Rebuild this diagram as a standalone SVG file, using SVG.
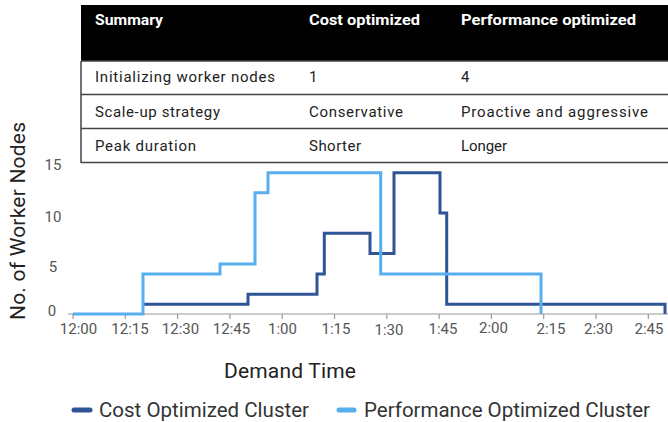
<svg xmlns="http://www.w3.org/2000/svg" width="668" height="422" viewBox="0 0 668 422">
<style>
.hd{font-family:Roboto,"Liberation Sans",sans-serif;font-size:15px;font-weight:bold;fill:#fff}
.td{font-family:Roboto,"Liberation Sans",sans-serif;font-size:15px;fill:#222}
.rl{stroke:#444;stroke-width:1.5;fill:none}
.tk{font-family:Roboto,"Liberation Sans",sans-serif;font-size:15px;fill:#555;text-anchor:middle}
.ttl{font-family:Roboto,"Liberation Sans",sans-serif;font-size:21px;fill:#222}
.lg{font-family:Roboto,"Liberation Sans",sans-serif;font-size:20.5px;fill:#333}
.cost{stroke:#2f5597;stroke-width:3;fill:none;stroke-linejoin:miter}
.perf{stroke:#57aff0;stroke-width:3;fill:none;stroke-linejoin:miter}
</style>
<rect width="668" height="422" fill="#fff"/>
<g id="table">
<rect x="81" y="5" width="587" height="56" fill="#000"/>
<text class="hd" x="95" y="25" textLength="68" lengthAdjust="spacingAndGlyphs">Summary</text>
<text class="hd" x="309" y="25" textLength="111" lengthAdjust="spacingAndGlyphs">Cost optimized</text>
<text class="hd" x="461" y="25" textLength="175" lengthAdjust="spacingAndGlyphs">Performance optimized</text>
<path class="rl" d="M81 61V163M81 61H668M81 94.5H668M81 128.5H668M81 162.5H668"/>
<text class="td" x="95" y="82" textLength="180">Initializing worker nodes</text>
<text class="td" x="309" y="82">1</text>
<text class="td" x="461" y="82">4</text>
<text class="td" x="95" y="117" textLength="125">Scale-up strategy</text>
<text class="td" x="309" y="117" textLength="94">Conservative</text>
<text class="td" x="461" y="117" textLength="187">Proactive and aggressive</text>
<text class="td" x="95" y="151" textLength="101">Peak duration</text>
<text class="td" x="309" y="151" textLength="52">Shorter</text>
<text class="td" x="461" y="151" textLength="46">Longer</text>
</g>
<g id="axes">
<path d="M68 314H668" stroke="#999" stroke-width="1.2"/>
<path d="M73 314v5M125.3 314v5M177.6 314v5M229.9 314v5M282.2 314v5M334.5 314v5M386.8 314v5M439.1 314v5M491.4 314v5M543.7 314v5M596 314v5M648.3 314v5" stroke="#999" stroke-width="1.2"/>
<text class="tk" x="78.5" y="334">12:00</text>
<text class="tk" x="130" y="334">12:15</text>
<text class="tk" x="180.5" y="334">12:30</text>
<text class="tk" x="231.5" y="334">12:45</text>
<text class="tk" x="282.5" y="334">1:00</text>
<text class="tk" x="336" y="334">1:15</text>
<text class="tk" x="389" y="335">1:30</text>
<text class="tk" x="443" y="334">1:45</text>
<text class="tk" x="493.5" y="333">2:00</text>
<text class="tk" x="551" y="334">2:15</text>
<text class="tk" x="598.5" y="334">2:30</text>
<text class="tk" x="649" y="334">2:45</text>
<text class="tk" x="53" y="170">15</text>
<text class="tk" x="53" y="222">10</text>
<text class="tk" x="53" y="272">5</text>
<text class="tk" x="52" y="316">0</text>
<text class="ttl" x="0" y="0" text-anchor="middle" textLength="198" transform="translate(25 221) rotate(-90)">No. of Worker Nodes</text>
<text class="ttl" x="290" y="378" text-anchor="middle" textLength="132">Demand Time</text>
</g>
<g id="series">
<path class="cost" d="M143 304.3H248V294.2H317V274H324.3V233.3H370V253.4H394V172.7H440V213H446.7V304.3H665V314"/>
<path class="perf" d="M73 314H143V274H220V264H255V192.7H268V172.7H380.7V274H541V314"/>
</g>
<g id="legend">
<line x1="74" y1="410" x2="90" y2="410" stroke="#2f5597" stroke-width="5" stroke-linecap="round"/>
<text class="lg" x="99" y="417" textLength="210">Cost Optimized Cluster</text>
<line x1="339" y1="410" x2="354" y2="410" stroke="#57aff0" stroke-width="5" stroke-linecap="round"/>
<text class="lg" x="364" y="417" textLength="286">Performance Optimized Cluster</text>
</g>
</svg>
